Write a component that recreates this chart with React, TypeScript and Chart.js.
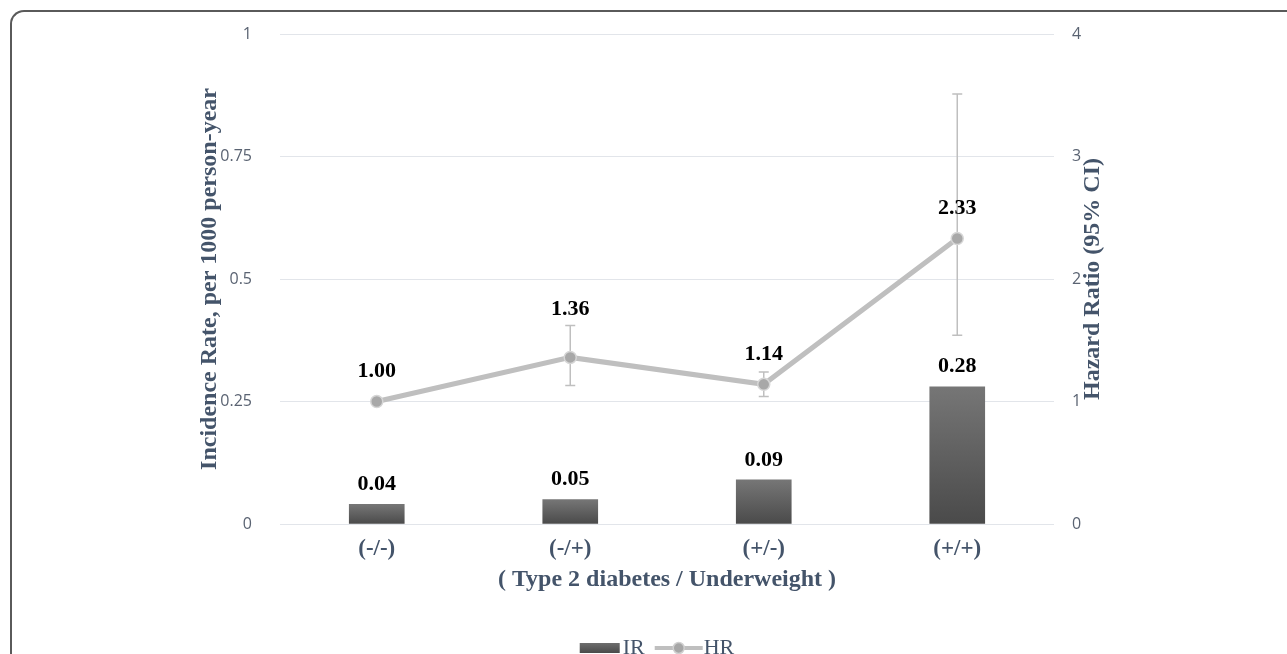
import React, { useEffect, useRef } from "react";
import { Chart, registerables } from "chart.js";

Chart.register(...registerables);

// ---- data ----
const categories = ["(-/-)", "(-/+)", "(+/-)", "(+/+)"];
const irValues = [0.04, 0.05, 0.09, 0.28];
const hrValues = [1.0, 1.36, 1.14, 2.33];
const hrLower: (number | null)[] = [null, 1.13, 1.04, 1.54];
const hrUpper: (number | null)[] = [null, 1.62, 1.24, 3.51];
const leftTickValues = [0, 0.25, 0.5, 0.75, 1];
const rightTickValues = [0, 1, 2, 3, 4];
const seriesNames = ["IR", "HR"];
const xTitle = "( Type 2 diabetes / Underweight )";
const leftTitle = "Incidence Rate, per 1000 person-year";
const rightTitle = "Hazard Ratio (95% CI)";

const SERIF = "'Liberation Serif', 'Times New Roman', Times, serif";
const SANS = "'Open Sans', 'Noto Sans', sans-serif";
const SLATE = "#44546a";
const LINE_GRAY = "#bfbfbf";

const errorBarPlugin = {
  id: "errorBars",
  afterDatasetDraw(chart: any, args: any) {
    if (args.index !== 0) return;
    const y1 = chart.scales.y1;
    const meta = chart.getDatasetMeta(1);
    const ctx = chart.ctx;
    ctx.save();
    ctx.strokeStyle = LINE_GRAY;
    ctx.lineWidth = 1.5;
    meta.data.forEach((pt: any, i: number) => {
      const lo = hrLower[i];
      const hi = hrUpper[i];
      if (lo == null || hi == null) return;
      const x = pt.x;
      const yl = y1.getPixelForValue(lo);
      const yh = y1.getPixelForValue(hi);
      ctx.beginPath();
      ctx.moveTo(x, yl);
      ctx.lineTo(x, yh);
      ctx.moveTo(x - 5, yl);
      ctx.lineTo(x + 5, yl);
      ctx.moveTo(x - 5, yh);
      ctx.lineTo(x + 5, yh);
      ctx.stroke();
    });
    ctx.restore();
  },
};

const valueLabelPlugin = {
  id: "valueLabels",
  afterDatasetsDraw(chart: any) {
    const ctx = chart.ctx;
    const y1 = chart.scales.y1;
    ctx.save();
    ctx.font = `bold 22px ${SERIF}`;
    ctx.fillStyle = "#000";
    ctx.textAlign = "center";
    ctx.textBaseline = "middle";
    const barMeta = chart.getDatasetMeta(0);
    barMeta.data.forEach((bar: any, i: number) => {
      ctx.fillText(irValues[i].toFixed(2), bar.x, bar.y - 20);
    });
    const lineMeta = chart.getDatasetMeta(1);
    lineMeta.data.forEach((pt: any, i: number) => {
      let ly = pt.y - 30;
      const hi = hrUpper[i];
      if (hi != null) {
        const yh = y1.getPixelForValue(hi);
        if (pt.y - yh < 45) ly = Math.min(ly, yh - 16);
      }
      ctx.fillText(hrValues[i].toFixed(2), pt.x, ly);
    });
    ctx.restore();
  },
};

const rightTitlePlugin = {
  id: "rightTitle",
  afterDraw(chart: any) {
    const ctx = chart.ctx;
    const ca = chart.chartArea;
    ctx.save();
    ctx.translate(ca.right + 39, (ca.top + ca.bottom) / 2);
    ctx.rotate(-Math.PI / 2);
    ctx.font = `bold 24px ${SERIF}`;
    ctx.fillStyle = SLATE;
    ctx.textAlign = "center";
    ctx.textBaseline = "middle";
    ctx.fillText(rightTitle, 0, 0);
    ctx.restore();
  },
};

const customLegendPlugin = {
  id: "customLegend",
  afterDraw(chart: any) {
    const ctx = chart.ctx;
    const ca = chart.chartArea;
    ctx.save();
    ctx.font = `22px ${SERIF}`;
    const wIR = ctx.measureText(seriesNames[0]).width;
    const wHR = ctx.measureText(seriesNames[1]).width;
    const boxW = 40;
    const lineW = 48;
    const total = boxW + 3 + wIR + 10 + lineW + 1 + wHR;
    const cx = (ca.left + ca.right) / 2 - 10;
    let x = cx - total / 2;
    const yc = 648;
    const g = ctx.createLinearGradient(0, yc - 5, 0, yc + 5);
    g.addColorStop(0, "#6e6e6e");
    g.addColorStop(1, "#4a4a4a");
    ctx.fillStyle = g;
    ctx.fillRect(x, yc - 5, boxW, 10);
    x += boxW + 3;
    ctx.fillStyle = SLATE;
    ctx.textAlign = "left";
    ctx.textBaseline = "alphabetic";
    ctx.fillText(seriesNames[0], x, 654);
    x += wIR + 10;
    ctx.strokeStyle = LINE_GRAY;
    ctx.lineWidth = 4;
    ctx.beginPath();
    ctx.moveTo(x, yc);
    ctx.lineTo(x + lineW, yc);
    ctx.stroke();
    ctx.beginPath();
    ctx.arc(x + lineW / 2, yc, 5.5, 0, Math.PI * 2);
    ctx.fillStyle = "#a6a6a6";
    ctx.fill();
    ctx.lineWidth = 1.5;
    ctx.strokeStyle = "#d0d0d0";
    ctx.stroke();
    x += lineW + 1;
    ctx.fillStyle = SLATE;
    ctx.fillText(seriesNames[1], x, 654);
    ctx.restore();
  },
};

export default function App() {
  const canvasRef = useRef<HTMLCanvasElement | null>(null);

  useEffect(() => {
    const canvas = canvasRef.current;
    if (!canvas) return;
    const chart = new Chart(canvas, {
      type: "bar",
      data: {
        labels: categories,
        datasets: [
          {
            type: "bar",
            label: seriesNames[0],
            data: irValues,
            yAxisID: "y",
            order: 2,
            barThickness: 55,
            backgroundColor: (c: any) => {
              const ch = c.chart;
              const ys = ch.scales && ch.scales.y;
              if (!ys || c.type !== "data") return "#555555";
              const v = irValues[c.dataIndex];
              const top = ys.getPixelForValue(v);
              const bottom = ys.getPixelForValue(0);
              if (!isFinite(top) || !isFinite(bottom)) return "#555555";
              const g = ch.ctx.createLinearGradient(0, top, 0, bottom);
              g.addColorStop(0, "#767676");
              g.addColorStop(1, "#4a4a4a");
              return g;
            },
            borderWidth: 0,
          },
          {
            type: "line",
            label: seriesNames[1],
            data: hrValues,
            yAxisID: "y1",
            order: 1,
            borderColor: LINE_GRAY,
            borderWidth: 5,
            pointRadius: 6,
            pointBackgroundColor: "#a8a8a8",
            pointBorderColor: "#d6d6d6",
            pointBorderWidth: 1.5,
            tension: 0,
          },
        ],
      },
      options: {
        responsive: false,
        animation: false,
        devicePixelRatio: 1,
        layout: { padding: { left: 160, right: 0, top: 34, bottom: 60 } },
        plugins: {
          legend: { display: false },
          tooltip: { enabled: false },
        },
        scales: {
          x: {
            grid: { display: false },
            border: { display: false },
            afterFit: (s: any) => {
              s.height = 70;
            },
            ticks: {
              color: SLATE,
              font: { family: SERIF, size: 23, weight: "bold" },
              padding: 3,
            },
            title: {
              display: true,
              text: xTitle,
              color: SLATE,
              font: { family: SERIF, size: 24, weight: "bold" },
              padding: { top: 0, bottom: 0 },
            },
          },
          y: {
            position: "left",
            min: leftTickValues[0],
            max: leftTickValues[leftTickValues.length - 1],
            afterBuildTicks: (s: any) => {
              s.ticks = leftTickValues.map((v) => ({ value: v }));
            },
            afterFit: (s: any) => {
              s.width = 120;
            },
            grid: {
              color: "#e2e5ea",
              lineWidth: 1,
              drawTicks: true,
              tickLength: 28,
              tickColor: "rgba(0,0,0,0)",
            },
            border: { display: false },
            ticks: {
              color: "#5a6372",
              font: { family: SANS, size: 16 },
              padding: 0,
              callback: (v: any) => String(v),
            },
            title: {
              display: true,
              text: leftTitle,
              color: SLATE,
              font: { family: SERIF, size: 24, weight: "bold" },
              padding: { top: 35.6, bottom: 0 },
            },
          },
          y1: {
            position: "right",
            min: rightTickValues[0],
            max: rightTickValues[rightTickValues.length - 1],
            afterBuildTicks: (s: any) => {
              s.ticks = rightTickValues.map((v) => ({ value: v }));
            },
            afterFit: (s: any) => {
              s.width = 233;
            },
            grid: {
              display: true,
              drawOnChartArea: false,
              drawTicks: true,
              tickLength: 18,
              tickColor: "rgba(0,0,0,0)",
            },
            border: { display: false },
            ticks: {
              color: "#5a6372",
              font: { family: SANS, size: 16 },
              padding: 0,
              callback: (v: any) => String(v),
            },
          },
        },
      },
      plugins: [errorBarPlugin, valueLabelPlugin, rightTitlePlugin, customLegendPlugin],
    } as any);
    return () => chart.destroy();
  }, []);

  return (
    <>
      <div
        style={{
          position: "fixed",
          left: 10,
          top: 10,
          width: 1400,
          height: 800,
          borderTop: "2px solid #5a5a5a",
          borderLeft: "2px solid #5a5a5a",
          borderTopLeftRadius: 14,
          boxSizing: "border-box",
        }}
      />
      <div style={{ position: "fixed", left: 0, top: 0, width: 1287, height: 654 }}>
        <canvas ref={canvasRef} width={1287} height={654} style={{ display: "block" }} />
      </div>
    </>
  );
}
